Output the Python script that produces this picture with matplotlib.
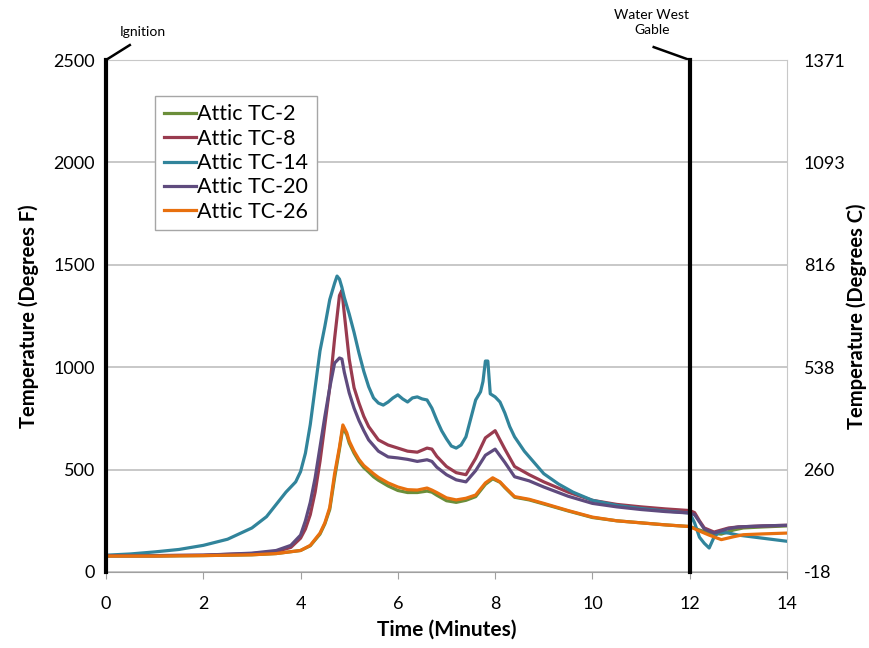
import matplotlib
matplotlib.use("Agg")
import matplotlib.pyplot as plt
import numpy as np

plt.rcParams['font.family'] = ['Lato', 'DejaVu Sans']

# time axes (minutes)
t_fast = [0, 0.5, 1, 1.5, 2, 2.5, 3, 3.3, 3.5, 3.7, 3.9, 4.0, 4.1, 4.2, 4.3, 4.4, 4.5, 4.6,
          4.7, 4.75, 4.8, 4.85, 4.9, 5.0, 5.1, 5.2, 5.3, 5.4, 5.5, 5.6, 5.7, 5.8, 5.9, 6.0,
          6.1, 6.2, 6.3, 6.4, 6.5, 6.6, 6.7, 6.8, 6.9, 7.0, 7.1, 7.2, 7.3, 7.4, 7.5, 7.6,
          7.7, 7.75, 7.8, 7.85, 7.9, 8.0, 8.1, 8.2, 8.3, 8.4, 8.6, 8.8, 9.0, 9.3, 9.6, 10.0,
          10.5, 11.0, 11.5, 12.0, 12.1, 12.2, 12.3, 12.4, 12.5, 12.6, 12.8, 13.0, 13.5, 14.0]
t_mid = [0, 1, 2, 3, 3.5, 3.8, 4.0, 4.1, 4.2, 4.3, 4.4, 4.5, 4.6, 4.7, 4.8, 4.85, 4.9, 5.0,
         5.1, 5.2, 5.3, 5.4, 5.6, 5.8, 6.0, 6.2, 6.4, 6.6, 6.7, 6.8, 7.0, 7.2, 7.4, 7.6, 7.8,
         8.0, 8.2, 8.4, 8.7, 9.0, 9.5, 10.0, 10.5, 11.0, 11.5, 12.0, 12.1, 12.2, 12.3, 12.5,
         12.8, 13.0, 13.5, 14.0]
t_slow = [0, 1, 2, 3, 3.5, 4.0, 4.2, 4.4, 4.5, 4.6, 4.7, 4.8, 4.87, 4.95, 5.0, 5.1, 5.2, 5.3,
          5.4, 5.5, 5.6, 5.8, 6.0, 6.2, 6.4, 6.6, 6.7, 6.8, 7.0, 7.2, 7.4, 7.6, 7.8, 7.95, 8.1,
          8.2, 8.4, 8.7, 9.0, 9.5, 10.0, 10.5, 11.0, 11.5, 12.0, 12.2, 12.4, 12.65, 12.9, 13.1,
          13.5, 14.0]

# temperatures (degrees F)
tc2 = [78, 78, 80, 84, 90, 105, 128, 185, 235, 305, 460, 600, 705, 670, 630, 580, 540, 510,
       488, 465, 448, 420, 398, 388, 388, 395, 390, 375, 348, 340, 350, 368, 428, 455, 438,
       412, 365, 352, 332, 298, 266, 250, 240, 230, 222, 205, 190, 185, 205, 215, 220, 225]
tc8 = [80, 80, 82, 90, 100, 120, 165, 210, 280, 390, 540, 720, 900, 1140, 1350, 1375, 1260,
       1040, 900, 825, 760, 710, 645, 620, 605, 590, 585, 605, 600, 565, 515, 485, 475, 555,
       655, 690, 600, 515, 475, 440, 390, 350, 330, 318, 308, 300, 290, 250, 215, 195, 215,
       220, 225, 228]
tc14 = [82, 88, 98, 110, 130, 160, 215, 270, 330, 390, 440, 490, 580, 720, 900, 1080, 1200,
        1330, 1410, 1445, 1430, 1390, 1340, 1260, 1170, 1070, 980, 905, 850, 825, 815, 830,
        850, 865, 845, 830, 850, 855, 845, 840, 800, 742, 690, 650, 615, 605, 620, 660, 750,
        840, 880, 930, 1030, 1030, 870, 855, 830, 776, 710, 660, 590, 535, 480, 430, 390, 350,
        325, 310, 298, 288, 240, 170, 140, 117, 170, 195, 190, 180, 165, 150]
tc20 = [80, 80, 82, 92, 105, 130, 180, 250, 340, 460, 610, 760, 900, 1020, 1045, 1040, 975,
        875, 800, 740, 690, 645, 590, 562, 557, 550, 540, 548, 540, 512, 475, 450, 440, 495,
        570, 600, 535, 465, 445, 415, 370, 335, 318, 305, 295, 288, 280, 245, 210, 190, 212,
        220, 225, 228]
tc26 = [78, 78, 80, 84, 90, 105, 130, 190, 240, 315, 480, 610, 718, 680, 640, 590, 550, 520,
        500, 480, 462, 435, 415, 402, 400, 410, 400, 388, 362, 352, 360, 376, 435, 460, 440,
        415, 368, 355, 335, 300, 268, 250, 240, 230, 222, 200, 180, 158, 172, 182, 186, 190]

labels = ['Attic TC-2', 'Attic TC-8', 'Attic TC-14', 'Attic TC-20', 'Attic TC-26']
colors = ['#6B8E3A', '#993B4F', '#31849B', '#5F4B7E', '#E8700E']
left_ticks = [0, 500, 1000, 1500, 2000, 2500]
right_labels = ['-18', '260', '538', '816', '1093', '1371']

fig = plt.figure(figsize=(8.7, 6.48), dpi=100)
ax = fig.add_axes([0.1218, 0.1173, 0.7828, 0.7901])

series = [(t_slow, tc2), (t_mid, tc8), (t_fast, tc14), (t_mid, tc20), (t_slow, tc26)]
for (tt, vv), lab, col in zip(series, labels, colors):
    ax.plot(tt, vv, color=col, lw=2.3, label=lab, zorder=3)

ax.set_xlim(0, 14)
ax.set_ylim(0, 2500)
ax.set_xticks(range(0, 15, 2))
ax.set_yticks(left_ticks)
ax.grid(axis='y', color='#BFBFBF', lw=1.2)
ax.set_axisbelow(True)
for s in ['top', 'right']:
    ax.spines[s].set_color('#C8C8C8')
ax.spines['bottom'].set_color('#A0A0A0')
ax.spines['left'].set_visible(False)
ax.tick_params(axis='x', length=5, color='#A0A0A0', labelsize=13, pad=12)
ax.tick_params(axis='y', length=0, labelsize=13, pad=8)
ax.set_xlabel('Time (Minutes)', fontsize=15, fontweight='bold', labelpad=6)
ax.set_ylabel('Temperature (Degrees F)', fontsize=14.5, fontweight='bold', labelpad=10)

ax2 = ax.twinx()
ax2.set_ylim(0, 2500)
ax2.set_yticks(left_ticks)
ax2.set_yticklabels(right_labels)
ax2.tick_params(axis='y', length=0, labelsize=13, pad=12)
ax2.set_ylabel('Temperature (Degrees C)', fontsize=14.5, fontweight='bold', labelpad=1)
for s in ax2.spines.values():
    s.set_visible(False)

# event markers
ax.plot([0, 0], [0, 2500], color='black', lw=3, zorder=4, clip_on=False)
ax.plot([12, 12], [0, 2500], color='black', lw=3, zorder=4, clip_on=False)
ax.plot([0, 0.49], [2500, 2573], color='black', lw=1.8, clip_on=False)
ax.text(0.76, 2635, 'Ignition', fontsize=10, ha='center', va='center')
ax.plot([11.26, 12], [2563, 2500], color='black', lw=1.8, clip_on=False)
ax.text(11.22, 2683, 'Water West\nGable', fontsize=10, ha='center', va='center',
        linespacing=1.3)

leg = ax.legend(loc='upper left', bbox_to_anchor=(0.072, 0.93), fontsize=15.5,
                handlelength=1.5, handletextpad=0.05, labelspacing=0.2,
                borderpad=0.4, borderaxespad=0, fancybox=False, framealpha=1)
leg.get_frame().set_edgecolor('#A6A6A6')
leg.get_frame().set_linewidth(1.0)

fig.savefig('out.png', dpi=100)
